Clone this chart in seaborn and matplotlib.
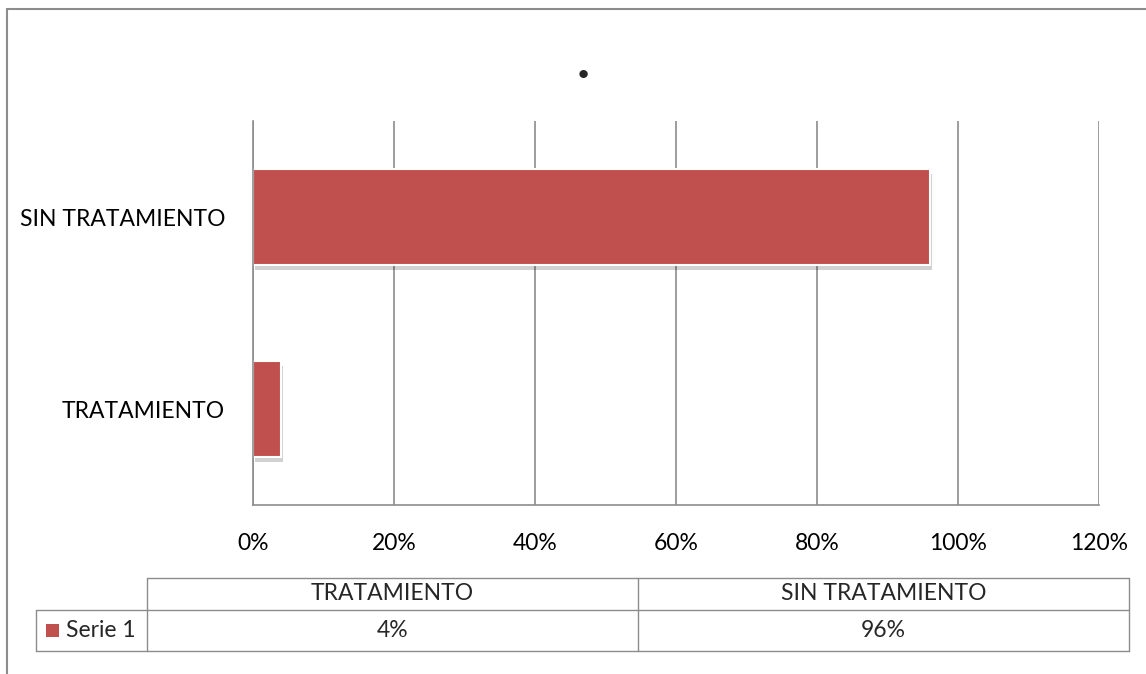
import numpy as np
import pandas as pd
import matplotlib
matplotlib.use("Agg")
import matplotlib.pyplot as plt
import matplotlib.patheffects as pe
from matplotlib.lines import Line2D
from matplotlib.patches import Rectangle
import seaborn as sns

# Data
categories = ["TRATAMIENTO", "SIN TRATAMIENTO"]
values = [4, 96]
series_name = "Serie 1"
x_ticks = [0, 20, 40, 60, 80, 100, 120]
title = "."

bar_color = "#C0504D"
line_color = "#8C8C8C"

sns.set_style("white")
plt.rcParams["font.family"] = ["Lato", "DejaVu Sans"]
fs = 16.5

W, H = 1146, 674
fig = plt.figure(figsize=(W / 100, H / 100), dpi=100)


def fx(px):
    return px / W


def fy(py):
    return 1 - py / H


df = pd.DataFrame({"cat": categories, "val": values})

ax = fig.add_axes([fx(253), fy(505), fx(1099) - fx(253), fy(121) - fy(505)])
sns.barplot(data=df, x="val", y="cat", order=categories[::-1], orient="h",
            color=bar_color, width=0.5, edgecolor="white", linewidth=1.5,
            saturation=1, ax=ax)
for p in ax.patches:
    p.set_path_effects([pe.SimplePatchShadow(offset=(1.5, -3.5), shadow_rgbFace="black",
                                             alpha=0.18), pe.Normal()])

ax.set_xlim(0, 120)
ax.set_xticks(x_ticks)
ax.set_xticklabels([f"{t}%" for t in x_ticks])
ax.set_xlabel("")
ax.set_ylabel("")
ax.grid(axis="x", color=line_color, linewidth=1.2)
ax.set_axisbelow(True)
for s in ["top", "right"]:
    ax.spines[s].set_visible(False)
for s in ["left", "bottom"]:
    ax.spines[s].set_color(line_color)
    ax.spines[s].set_linewidth(1.2)
ax.tick_params(axis="x", length=0, pad=20, labelsize=fs, colors="black")
ax.tick_params(axis="y", length=0, pad=20, labelsize=fs, colors="black")

# Title
fig.text(fx(583), fy(62), title, ha="center", va="center", fontsize=40,
         fontweight="bold")

# Outer frame (left and top visible)
fig.add_artist(Line2D([fx(7), fx(7)], [fy(9), 0], color=line_color, lw=1.5))
fig.add_artist(Line2D([fx(7), 1], [fy(9), fy(9)], color=line_color, lw=1.5))

# Data table below the chart
tl, tc, tm, tr = 36, 147, 638, 1129
ty0, ty1, ty2 = 578, 610, 651
tlw = 1.0


def hline(x0, x1, y):
    fig.add_artist(Line2D([fx(x0), fx(x1)], [fy(y), fy(y)], color=line_color, lw=tlw))


def vline(x, y0, y1):
    fig.add_artist(Line2D([fx(x), fx(x)], [fy(y0), fy(y1)], color=line_color, lw=tlw))


hline(tc, tr, ty0)
hline(tl, tr, ty1)
hline(tl, tr, ty2)
vline(tl, ty1, ty2)
vline(tc, ty0, ty2)
vline(tm, ty0, ty2)
vline(tr, ty0, ty2)

col_edges = [tc, tm, tr]
for i, (c, v) in enumerate(zip(categories, values)):
    cx = (col_edges[i] + col_edges[i + 1]) / 2
    fig.text(fx(cx), fy((ty0 + ty1) / 2), c, ha="center", va="center", fontsize=fs)
    fig.text(fx(cx), fy((ty1 + ty2) / 2), f"{v}%", ha="center", va="center", fontsize=fs)

fig.add_artist(Rectangle((fx(46), fy(637)), fx(59) - fx(46), fy(624) - fy(637),
                         facecolor=bar_color, edgecolor="none"))
fig.text(fx(66), fy((ty1 + ty2) / 2), series_name, ha="left", va="center", fontsize=fs)

fig.savefig("out.png", dpi=100)
